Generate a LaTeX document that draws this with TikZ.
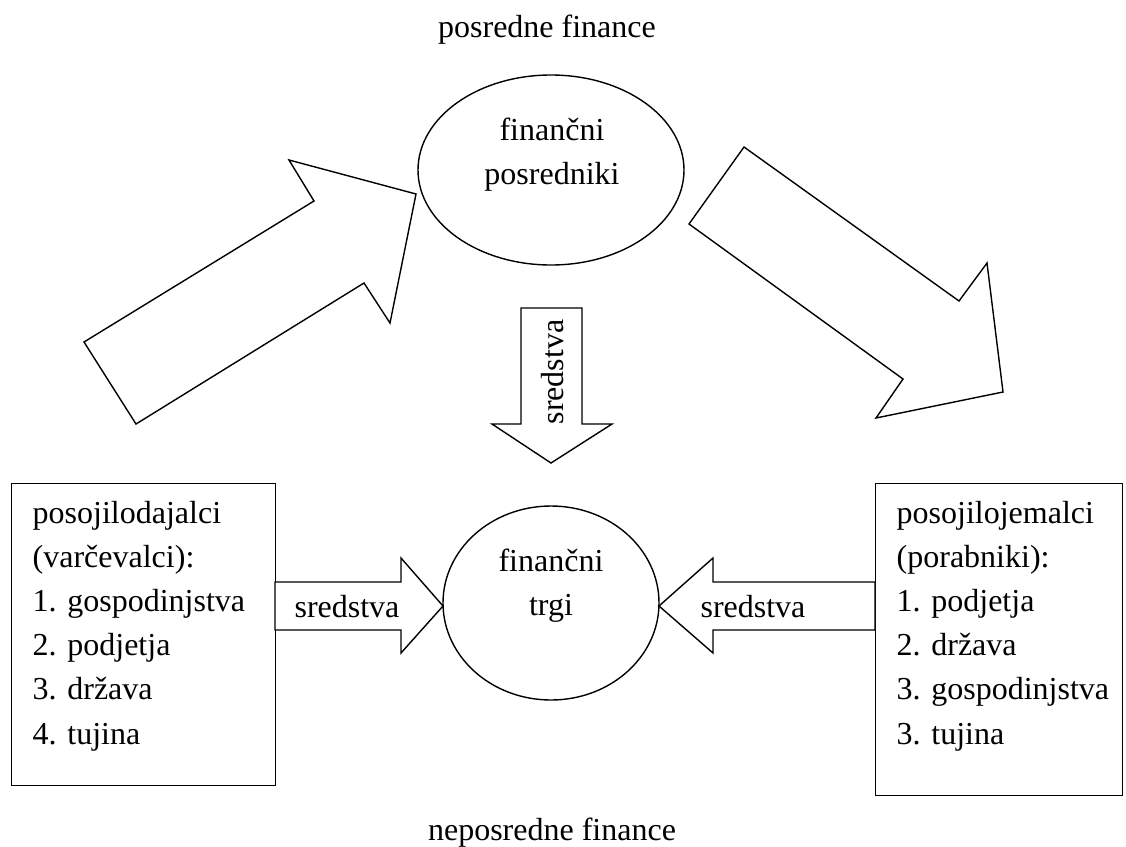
\documentclass[tikz,border=0pt]{standalone}
\usepackage{fontspec}
\setmainfont{Liberation Serif}
\usetikzlibrary{shapes.geometric}
\begin{document}
\begin{tikzpicture}[x=1pt,y=-1pt,line width=1.4pt,
  lbl/.style={font=\fontsize{32}{44}\selectfont,inner sep=0pt},
  outline/.style={draw=black,fill=white,line join=miter},
  oval/.style={draw=black,ellipse,inner sep=0pt},
  boxnode/.style={draw=black,rectangle,anchor=north west,inner sep=0pt}]
\useasboundingbox (0,0) rectangle (1126,846);

% headings
\node[lbl,anchor=base] (top) at (547,37) {posredne finance};
\node[lbl,anchor=base] (bottom) at (552,840) {neposredne finance};

% ellipses
\node[oval,minimum width=266pt,minimum height=190pt] (fp) at (551,170) {};
\node[lbl,align=center] (fptext) at (552,155) {finančni\\posredniki};
\node[oval,minimum width=216pt,minimum height=194pt] (ft) at (551,603) {};
\node[lbl,align=center] (fttext) at (551,586) {finančni\\trgi};

% boxes
\node[boxnode,minimum width=264pt,minimum height=302pt] (lb) at (11,483) {};
\node[boxnode,minimum width=247pt,minimum height=312pt] (rb) at (875,483) {};

\foreach \t [count=\i from 0] in {posojilodajalci,(varčevalci):,1. gospodinjstva,2. podjetja,3. država,4. tujina}
  \node[lbl,anchor=base west] (l\i) at (32,523+44.2*\i) {\t};
\foreach \t [count=\i from 0] in {posojilojemalci,(porabniki):,1. podjetja,2. država,3. gospodinjstva,3. tujina}
  \node[lbl,anchor=base west] (r\i) at (896,523+44.2*\i) {\t};

% big block arrows
\draw[outline] (84,342) -- (314,201) -- (289,160) -- (416,194) -- (390,323) -- (364,283) -- (136,424) -- cycle;
\draw[outline] (744,147) -- (959,301) -- (987,263) -- (1003,392) -- (876,418) -- (903,379) -- (689,224) -- cycle;

% down arrow
\draw[outline] (521,308) -- (582,308) -- (582,424) -- (612,424) -- (551,463) -- (492,424) -- (521,424) -- cycle;
\node[lbl,rotate=90] (sv) at (553,372) {sredstva};

% horizontal arrows
\draw[outline] (275,582) -- (401,582) -- (401,558) -- (443,606) -- (401,653) -- (401,630) -- (275,630) -- cycle;
\draw[outline] (875,582) -- (713,582) -- (713,558) -- (659,606) -- (713,653) -- (713,630) -- (875,630) -- cycle;
\node[lbl,anchor=base] (sl) at (347,617) {sredstva};
\node[lbl,anchor=base] (sr) at (753,617) {sredstva};
\end{tikzpicture}
\end{document}
